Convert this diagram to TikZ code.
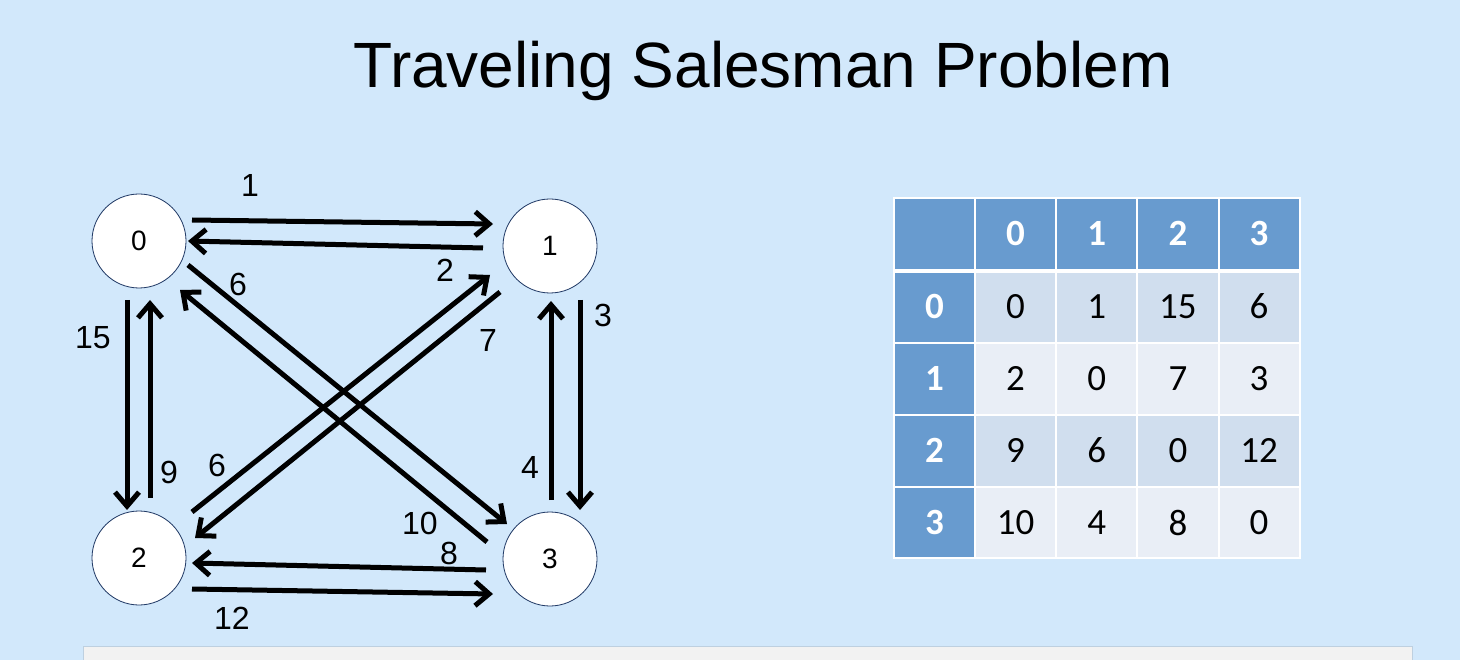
\documentclass[tikz,border=0pt]{standalone}
\usepackage{fontspec}
\setmainfont{Liberation Sans}
\newfontfamily\calfont{Carlito}
\usetikzlibrary{arrows.meta,calc}
\definecolor{bg}{RGB}{210,232,251}
\definecolor{hdr}{RGB}{104,155,207}
\definecolor{rowA}{RGB}{208,222,238}
\definecolor{rowB}{RGB}{233,238,246}
\definecolor{boxfill}{RGB}{242,242,242}
\definecolor{boxline}{RGB}{190,208,224}
\definecolor{nodeline}{RGB}{31,56,100}
\begin{document}
\begin{tikzpicture}[x=1pt,y=-1pt,
  city/.style={circle,draw=nodeline,line width=0.8pt,fill=white,minimum size=94pt,inner sep=0pt,font=\fontsize{28}{30}\selectfont},
  arr/.style={line width=5pt,-{Straight Barb[length=14pt,width=24pt]}},
  wt/.style={font=\fontsize{32}{36}\selectfont,inner sep=0pt},
  cellnum/.style={font=\calfont\fontsize{37}{40}\selectfont,inner sep=0pt},
  hdrnum/.style={font=\calfont\bfseries\fontsize{37}{40}\selectfont,text=white,inner sep=0pt},
  grid/.style={draw=white,line width=1.5pt}]
\fill[bg] (0,0) rectangle (1460,660);
\useasboundingbox (0,0) rectangle (1460,660);

% title
\node[font=\fontsize{64}{70}\selectfont,anchor=base,inner sep=0pt] (title) at (763,88) {Traveling Salesman Problem};

% bottom box
\fill[boxfill] (83,646) rectangle (1412,660);
\draw[boxline,line width=1pt] (83,660) -- (83,646) -- (1412,646) -- (1412,660);

% graph nodes
\node[city] (n0) at (139,241) {0};
\node[city] (n1) at (550,246) {1};
\node[city] (n2) at (139,558) {2};
\node[city] (n3) at (550,559) {3};

% edges
\draw[arr] ([shift={(53,-21)}]n0.center) -- ([shift={(-57,-22)}]n1.center);
\draw[arr] ([shift={(-67,2)}]n1.center) -- ([shift={(49,0)}]n0.center);
\draw[arr] ([shift={(-12,59)}]n0.center) -- ([shift={(-12,-48)}]n2.center);
\draw[arr] ([shift={(11,-60)}]n2.center) -- ([shift={(11,59)}]n0.center);
\draw[arr] ([shift={(30,54)}]n1.center) -- ([shift={(30,-49)}]n3.center);
\draw[arr] ([shift={(1,-59)}]n3.center) -- ([shift={(1,55)}]n1.center);
\draw[arr] ([shift={(-64,11)}]n3.center) -- ([shift={(53,5)}]n2.center);
\draw[arr] ([shift={(53,31)}]n2.center) -- ([shift={(-57,35)}]n3.center);
\draw[arr] ([shift={(49,24)}]n0.center) -- ([shift={(-43,-35)}]n3.center);
\draw[arr] ([shift={(-63,-17)}]n3.center) -- ([shift={(41,49)}]n0.center);
\draw[arr] ([shift={(53,-46)}]n2.center) -- ([shift={(-60,29)}]n1.center);
\draw[arr] ([shift={(-50,46)}]n1.center) -- ([shift={(56,-20)}]n2.center);

% edge labels
\node[wt] (w01) at (250,185) {1};
\node[wt] (w10) at (445,270) {2};
\node[wt] (w03) at (238,284) {6};
\node[wt] (w02) at (93,338) {15};
\node[wt] (w20) at (169,472) {9};
\node[wt] (w21) at (217,465) {6};
\node[wt] (w12) at (488,340) {7};
\node[wt] (w13) at (603,315) {3};
\node[wt] (w31) at (530,467) {4};
\node[wt] (w30) at (420,523) {10};
\node[wt] (w32) at (449,553) {8};
\node[wt] (w23) at (232,618) {12};

% table cells
\foreach \yt/\yb/\fc in {198/270/hdr,270/343/rowA,343/415/rowB,415/487/rowA,487/558/rowB}{
  \fill[hdr] (894,\yt) rectangle (975,\yb);
  \fill[\fc] (975,\yt) rectangle (1300,\yb);
}
% grid lines
\foreach \x in {975,1056,1137,1219}{ \draw[grid] (\x,198) -- (\x,558); }
\foreach \y in {343,415,487}{ \draw[grid] (894,\y) -- (1300,\y); }
\draw[draw=white,line width=4pt] (894,271) -- (1300,271);
\draw[grid] (894,198) rectangle (1300,558);

% header texts
\foreach \v [count=\ci from 0] in {0,1,2,3}{
  \node[hdrnum] (h\ci) at (1015.5+81.2*\ci,233.5) {\v};
  \node[hdrnum] (r\ci) at (934.5,306.5+72*\ci) {\v};
}
% values
\foreach \row [count=\ri from 0] in {{0,1,15,6},{2,0,7,3},{9,6,0,12},{10,4,8,0}}{
  \foreach \v [count=\ci from 0] in \row {
    \node[cellnum] (c\ri\ci) at (1015.5+81.2*\ci,306.5+72*\ri) {\v};
  }
}
\end{tikzpicture}
\end{document}
